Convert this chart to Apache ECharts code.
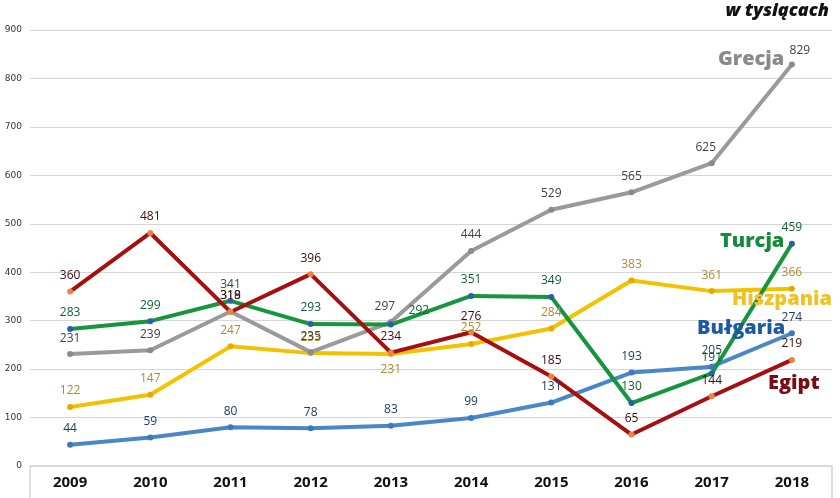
<!DOCTYPE html>
<html>
<head>
<meta charset="utf-8">
<script src="https://cdn.jsdelivr.net/npm/echarts@6/dist/echarts.min.js"></script>
<style>
  html, body { margin: 0; padding: 0; background: #fff; }
  #chart { width: 840px; height: 498px; }
</style>
</head>
<body>
<div id="chart"></div>
<script>
const years = ['2009', '2010', '2011', '2012', '2013', '2014', '2015', '2016', '2017', '2018']
const yTicks = [0, 100, 200, 300, 400, 500, 600, 700, 800, 900]

const hiszpania = [122, 147, 247, 233, 231, 252, 284, 383, 361, 366]
const bulgaria = [44, 59, 80, 78, 83, 99, 131, 193, 205, 274]
const grecja = [231, 239, 319, 235, 297, 444, 529, 565, 625, 829]
const turcja = [283, 299, 341, 293, 292, 351, 349, 130, 191, 459]
const egipt = [360, 481, 318, 396, 234, 276, 185, 65, 144, 219]

// label tweaks: [series name][index] -> label overrides
const labelTweaks = {
    Hiszpania: { 4: { position: 'bottom', distance: 6 } },
    Grecja: { 4: { offset: [-6, 0] }, 8: { offset: [-6, 0] }, 9: { offset: [8, 2] } },
    Turcja: { 4: { offset: [28, 2] } }
}

const makeSeries = (name, values, lineColor, dotColor, labelColor) => ({
    name,
    type: 'line',
    data: values.map((v, i) => {
        const tweak = labelTweaks[name] && labelTweaks[name][i]
        return tweak ? { value: v, label: tweak } : v
    }),
    symbol: 'circle',
    symbolSize: 6,
    showSymbol: true,
    lineStyle: { color: lineColor, width: 4 },
    itemStyle: { color: dotColor, borderWidth: 0 },
    label: {
        show: true,
        position: 'top',
        distance: 7,
        color: labelColor,
        fontSize: 12,
        fontFamily: 'Open Sans'
    },
    z: 2
})

var myChart = echarts.init(document.getElementById('chart'), null, { renderer: 'canvas' })

const nameText = (text, x, y, color) => ({
    type: 'text',
    left: x,
    top: y,
    style: {
        text,
        fill: color,
        font: '800 20px "Open Sans"'
    },
    z: 10
})

var option = {
    animation: false,
    backgroundColor: '#fff',
    grid: { left: 30, right: 8, top: 30, bottom: 32 },
    xAxis: {
        type: 'category',
        data: years,
        boundaryGap: true,
        axisLine: { lineStyle: { color: '#d4d4d4', width: 1.5 } },
        axisTick: { show: false },
        axisLabel: {
            margin: 9,
            color: '#111',
            fontSize: 15,
            fontWeight: 'bold',
            fontFamily: 'Open Sans'
        }
    },
    yAxis: {
        type: 'value',
        min: yTicks[0],
        max: yTicks[yTicks.length - 1],
        interval: 100,
        axisLine: { show: false },
        axisTick: { show: false },
        splitLine: { lineStyle: { color: '#d6d6d6', width: 1.2 } },
        axisLabel: {
            margin: 8,
            color: '#333',
            fontSize: 9,
            fontFamily: 'DejaVu Sans'
        }
    },
    series: [
        makeSeries('Hiszpania', hiszpania, '#f2c200', '#e9a800', '#b8862a'),
        makeSeries('Bułgaria', bulgaria, '#4b87c5', '#3d78b8', '#1d3d66'),
        makeSeries('Grecja', grecja, '#9a9a9a', '#8a8a8a', '#3f3f3f'),
        makeSeries('Turcja', turcja, '#16963c', '#2a5fa8', '#0f5e33'),
        makeSeries('Egipt', egipt, '#a3100f', '#f08040', '#3b0a0a')
    ],
    graphic: [
        {
            type: 'text',
            right: 11,
            top: 2,
            style: {
                text: 'w tysiącach',
                fill: '#111',
                font: 'italic 800 18px "Open Sans"'
            }
        },
        nameText('Grecja', 718, 49, '#8a8a8a'),
        nameText('Turcja', 720, 231, '#138a3c'),
        nameText('Hiszpania', 732, 289, '#efc22a'),
        nameText('Bułgaria', 697, 318, '#1b5aa0'),
        nameText('Egipt', 768, 373, '#7a0c16'),
        {
            type: 'line',
            shape: { x1: 30, y1: 466, x2: 30, y2: 498 },
            style: { stroke: '#d4d4d4', lineWidth: 1.5 }
        },
        {
            type: 'line',
            shape: { x1: 832, y1: 466, x2: 832, y2: 498 },
            style: { stroke: '#d4d4d4', lineWidth: 1.5 }
        }
    ]
}
myChart.setOption(option)
</script>
</body>
</html>
